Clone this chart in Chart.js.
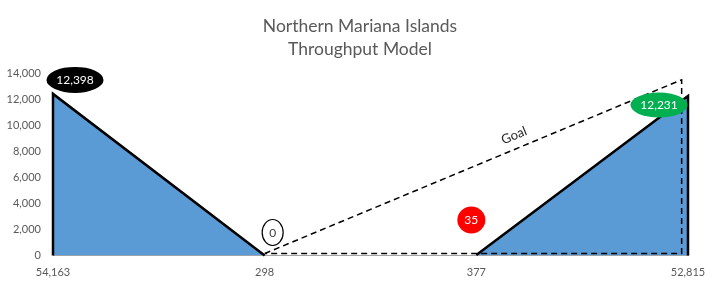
<!DOCTYPE html>
<html>
<head>
<meta charset="utf-8">
<title>Northern Mariana Islands Throughput Model</title>
<script src="https://cdn.jsdelivr.net/npm/chart.js@4/dist/chart.umd.min.js"></script>
<style>
html,body{margin:0;padding:0;background:#ffffff;}
#throughputChart{display:block;}
</style>
</head>
<body>
<canvas id="throughputChart" width="720" height="288"></canvas>
<script>

// ==========================================================
// Data
// ==========================================================

const titleLines = ["Northern Mariana Islands", "Throughput Model"];

const stageLabels = ["54,163", "298", "377", "52,815"];

const stagePositions = [0, 1, 2, 3];

const stageValues = [12398, 0, 35, 12231];

const goalX = [1, 2.97, 2.97, 1];

const goalY = [150, 13480, 150, 150];

const goalLabel = "Goal";

const yMax = 14000;

const yStep = 2000;

// ==========================================================
// Styles
// ==========================================================

const FONT = "Lato, 'Open Sans', sans-serif";

const AXIS_TEXT = "#595959";

const AREA_FILL = "#5B9BD5";

// one bubble per stage, offset from its point in pixels
const bubbleStyles = [
    { fill:"#000000", stroke:null,      text:"#FFFFFF", dx:22,  dy:-14, rx:28.5, ry:13 },
    { fill:"#FFFFFF", stroke:"#000000", text:"#404040", dx:8,   dy:-23, rx:10.5, ry:13 },
    { fill:"#FF0000", stroke:null,      text:"#FFFFFF", dx:-5,  dy:-35, rx:14,   ry:13.5 },
    { fill:"#00B050", stroke:null,      text:"#FFFFFF", dx:-29, dy:9,   rx:28.5, ry:12.5 }
];

// ==========================================================
// Build points
// ==========================================================

function leftArea(){

    return [
        { x:stagePositions[0], y:0 },
        { x:stagePositions[0], y:stageValues[0] },
        { x:stagePositions[1], y:stageValues[1] }
    ];

}

function rightArea(){

    return [
        { x:stagePositions[2], y:stageValues[2] },
        { x:stagePositions[3], y:stageValues[3] },
        { x:stagePositions[3], y:0 }
    ];

}

function goalPoints(){

    return goalX.map((x, i) => ({ x:x, y:goalY[i] }));

}

// ==========================================================
// Bubble labels + goal text
// ==========================================================

const annotationPlugin = {

    id:"annotations",

    afterDatasetsDraw(chart){

        const ctx = chart.ctx;
        const xs = chart.scales.x;
        const ys = chart.scales.y;

        ctx.save();

        // bubbles

        ctx.font = "12px " + FONT;
        ctx.textAlign = "center";
        ctx.textBaseline = "middle";

        stageValues.forEach((v, i) => {

            const st = bubbleStyles[i];
            const cx = xs.getPixelForValue(stagePositions[i]) + st.dx;
            const cy = ys.getPixelForValue(v) + st.dy;

            ctx.beginPath();
            ctx.ellipse(cx, cy, st.rx, st.ry, 0, 0, Math.PI * 2);
            ctx.fillStyle = st.fill;
            ctx.fill();

            if(st.stroke){
                ctx.lineWidth = 1.2;
                ctx.strokeStyle = st.stroke;
                ctx.stroke();
            }

            ctx.fillStyle = st.text;
            ctx.fillText(v.toLocaleString("en-US"), cx, cy + 0.5);

        });

        // goal text along the dashed line

        const x0 = xs.getPixelForValue(goalX[0]);
        const y0 = ys.getPixelForValue(goalY[0]);
        const x1 = xs.getPixelForValue(goalX[1]);
        const y1 = ys.getPixelForValue(goalY[1]);

        const angle = Math.atan2(y1 - y0, x1 - x0);
        const t = 0.61;

        ctx.translate(x0 + (x1 - x0) * t, y0 + (y1 - y0) * t);
        ctx.rotate(angle);
        ctx.font = "13px " + FONT;
        ctx.fillStyle = "#262626";
        ctx.fillText(goalLabel, 0, -13);

        ctx.restore();

    }

};

// ==========================================================
// Chart
// ==========================================================

function createThroughputChart(){

    const canvas = document.getElementById("throughputChart");

    if (!canvas) return;

    const ctx = canvas.getContext("2d");

    new Chart(ctx,{

        type:"line",

        data:{

            datasets:[

                {
                    label:"Goal",
                    data:goalPoints(),
                    borderColor:"#000000",
                    borderWidth:1.5,
                    borderDash:[6,4],
                    fill:false,
                    pointRadius:0,
                    tension:0,
                    clip:false,
                    order:0
                },

                {
                    label:"Left",
                    data:leftArea(),
                    borderColor:"#000000",
                    borderWidth:2.5,
                    backgroundColor:AREA_FILL,
                    fill:"origin",
                    pointRadius:0,
                    tension:0,
                    clip:false,
                    order:1
                },

                {
                    label:"Right",
                    data:rightArea(),
                    borderColor:"#000000",
                    borderWidth:2.5,
                    backgroundColor:AREA_FILL,
                    fill:"origin",
                    pointRadius:0,
                    tension:0,
                    clip:false,
                    order:1
                }

            ]

        },

        options:{

            responsive:false,

            animation:false,

            layout:{
                padding:{ left:0, right:0, top:0, bottom:8 }
            },

            plugins:{

                legend:{ display:false },

                tooltip:{ enabled:false },

                title:{
                    display:true,
                    text:titleLines,
                    color:AXIS_TEXT,
                    font:{ family:FONT, size:17.5, weight:"normal", lineHeight:1.3 },
                    padding:{ top:15, bottom:12.5 }
                }

            },

            scales:{

                x:{
                    type:"linear",
                    min:stagePositions[0],
                    max:stagePositions[stagePositions.length - 1],
                    afterBuildTicks(scale){
                        scale.ticks = stagePositions.map(v => ({ value:v }));
                    },
                    afterFit(scale){
                        scale.height = 24.5;
                    },
                    ticks:{
                        color:AXIS_TEXT,
                        font:{ family:FONT, size:11 },
                        padding:10,
                        autoSkip:false,
                        maxRotation:0,
                        callback(value){
                            return stageLabels[stagePositions.indexOf(value)];
                        }
                    },
                    grid:{ drawOnChartArea:false, drawTicks:false },
                    border:{ display:true, color:"#A6A6A6", width:1 }
                },

                y:{
                    min:0,
                    max:yMax,
                    afterFit(scale){
                        scale.width = 53;
                    },
                    ticks:{
                        stepSize:yStep,
                        color:AXIS_TEXT,
                        font:{ family:FONT, size:11 },
                        padding:12,
                        callback(value){
                            return value.toLocaleString("en-US");
                        }
                    },
                    grid:{ display:false, drawTicks:false },
                    border:{ display:false }
                },

                // empty right axis: keeps the plot clear of the right edge
                // while the title stays centred on the full width
                yRight:{
                    position:"right",
                    display:true,
                    afterFit(scale){
                        scale.width = 32;
                    },
                    ticks:{ display:false },
                    grid:{ display:false, drawTicks:false },
                    border:{ display:false }
                }

            }

        },

        plugins:[annotationPlugin]

    });

}

createThroughputChart();

</script>
</body>
</html>
